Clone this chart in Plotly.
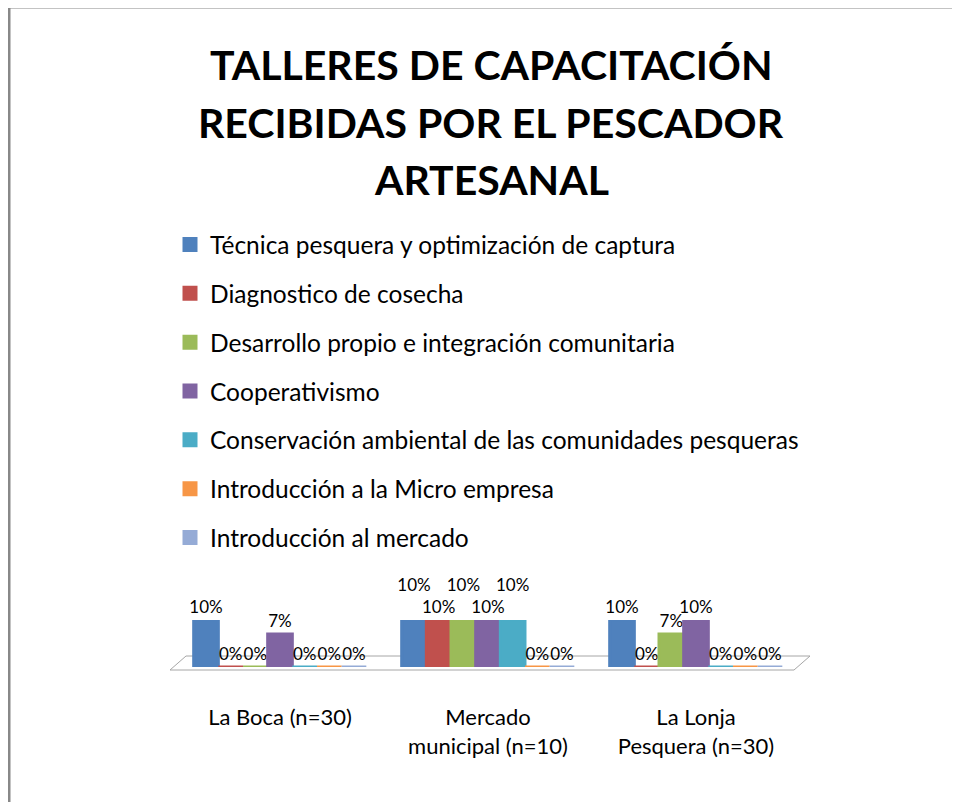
import plotly.graph_objects as go

W, H = 960, 802

# categories and series values (percent)
lugares = ["La Boca (n=30)", "Mercado<br>municipal (n=10)", "La Lonja<br>Pesquera (n=30)"]
talleres = [
    "Técnica pesquera y optimización de captura",
    "Diagnostico de cosecha",
    "Desarrollo propio e integración comunitaria",
    "Cooperativismo",
    "Conservación ambiental de las comunidades pesqueras",
    "Introducción a la Micro empresa",
    "Introducción al mercado",
]
tecnica = [10, 10, 10]
diagnostico = [0, 10, 0]
desarrollo = [0, 10, 7]
cooperativismo = [7, 10, 10]
conservacion = [0, 10, 0]
micro_empresa = [0, 0, 0]
mercado = [0, 0, 0]
valores = [tecnica, diagnostico, desarrollo, cooperativismo, conservacion, micro_empresa, mercado]

titulo = ["TALLERES DE CAPACITACIÓN", "RECIBIDAS POR EL PESCADOR", "ARTESANAL"]

colores = ["#4F81BD", "#C0504D", "#9BBB59", "#8064A2", "#4BACC6", "#F79646", "#95ABD6"]

FONT = "Lato"
OFF = 8  # page body margin


def px(x):
    return (x - OFF) / W


def py(y):
    return 1 - (y - OFF) / H


def plantilla(i, j):
    # lift every other label when neighbouring bars share the same height (staggered like the 3D chart)
    v = valores[i][j]
    vecinos = [valores[k][j] for k in (i - 1, i + 1) if 0 <= k < len(valores)]
    if v > 0 and i % 2 == 0 and v in vecinos:
        return "%{y:.0f}%<br> "
    return "%{y:.0f}%"


fig = go.Figure()
for i, (nombre, vals, col) in enumerate(zip(talleres, valores, colores)):
    fig.add_trace(go.Bar(
        name=nombre,
        x=lugares,
        y=vals,
        marker=dict(color=col, line=dict(color=col, width=3)),
        text=vals,
        texttemplate=[plantilla(i, j) for j in range(len(lugares))],
        textposition="outside",
        constraintext="none",
        textfont=dict(family=FONT, size=17, color="black"),
        cliponaxis=False,
        legendgroup=str(i),
    ))

# title lines
for linea, yc in zip(titulo, [65, 122, 180]):
    fig.add_annotation(
        text=linea, x=px(491), y=py(yc), xref="paper", yref="paper",
        xanchor="center", yanchor="middle", showarrow=False,
        font=dict(family=FONT, size=41, color="black", weight="bold"),
    )

# floor of the 3D plot area
floor = (f"M {px(170)} {py(670)} L {px(186)} {py(656)} L {px(810)} {py(656)} "
         f"L {px(794)} {py(670)} Z")

fig.update_layout(
    width=W, height=H,
    paper_bgcolor="white", plot_bgcolor="rgba(0,0,0,0)",
    margin=dict(l=0, r=0, t=0, b=0),
    barmode="group", bargap=0.17, bargroupgap=0,
    font=dict(family=FONT, color="black"),
    legend=dict(
        x=px(170), y=py(222), xanchor="left", yanchor="top",
        font=dict(family=FONT, size=24.5, color="black"),
        tracegroupgap=14, itemclick=False,
        bgcolor="rgba(0,0,0,0)",
    ),
    xaxis=dict(
        domain=[px(176), px(800)],
        showgrid=False, showline=False, zeroline=False, ticks="",
        tickfont=dict(family=FONT, size=22, color="black"),
        ticklabelstandoff=35,
        fixedrange=True,
    ),
    yaxis=dict(
        domain=[py(667), py(620)],
        range=[0, 10],
        visible=False, fixedrange=True,
    ),
    shapes=[
        dict(type="path", path=floor, xref="paper", yref="paper",
             line=dict(color="#A6A6A6", width=1), fillcolor="white", layer="below"),
        dict(type="path",
             path=f"M {px(9)} {py(810)} L {px(9)} {py(7)} L {px(970)} {py(7)}",
             xref="paper", yref="paper", line=dict(color="#888888", width=3)),
    ],
)

fig.write_html("out.html")
